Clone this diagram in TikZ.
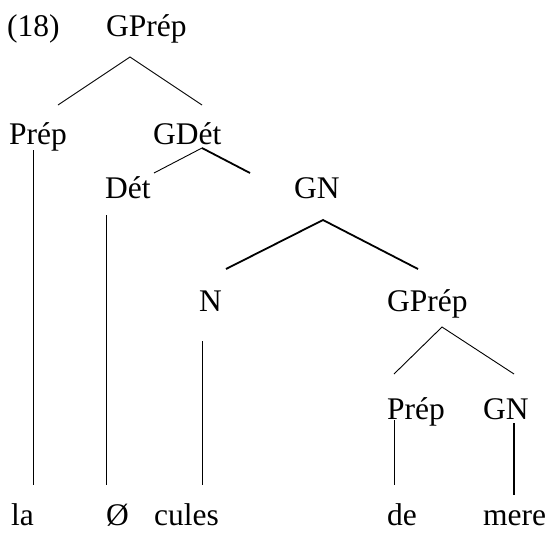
\documentclass[tikz,border=0pt]{standalone}
\usepackage{fontspec}
\setmainfont{Liberation Serif}
\begin{document}
\begin{tikzpicture}[x=1pt,y=-1pt,
  lbl/.style={anchor=base west,inner sep=0pt,font=\fontsize{31.5}{36}\selectfont},
  thin/.style={line width=0.9pt},
  thick/.style={line width=1.8pt}]
\useasboundingbox (0,0) rectangle (548,533);
% labels
\node[lbl] (ex) at (7,36) {(18)};
\node[lbl] (gp1) at (106,36) {GPrép};
\node[lbl] (prep1) at (9,144) {Prép};
\node[lbl] (gdet) at (153,144) {GDét};
\node[lbl] (det) at (105,198) {Dét};
\node[lbl] (gn1) at (294,198) {GN};
\node[lbl] (n) at (199,311) {N};
\node[lbl] (gp2) at (387,311) {GPrép};
\node[lbl] (prep2) at (387,419) {Prép};
\node[lbl] (gn2) at (483,419) {GN};
\node[lbl] (la) at (11,525) {la};
\node[lbl] (o) at (106,525) {Ø};
\node[lbl] (cules) at (154,525) {cules};
\node[lbl] (de) at (387,525) {de};
\node[lbl] (mere) at (483,525) {mere};
% connector points
\coordinate (a1) at (130,57);
\coordinate (a1l) at (58,105);
\coordinate (a1r) at (202,105);
\coordinate (a2) at (202,148);
\coordinate (a2l) at (154,173);
\coordinate (a2r) at (250,173);
\coordinate (a3) at (323,220);
\coordinate (a3l) at (226,269);
\coordinate (a3r) at (418,269);
\coordinate (a4) at (442,327);
\coordinate (a4l) at (394,374);
\coordinate (a4r) at (514,374);
\draw[thin] (a1l) -- (a1) -- (a1r);
\draw[thin] (a2l) -- (a2);
\draw[thick] (a2) -- (a2r);
\draw[thick] (a3l) -- (a3) -- (a3r);
\draw[thin] (a4l) -- (a4) -- (a4r);
% verticals
\draw[thin] (33,150) -- (33,485);
\draw[thin] (106,215) -- (106,485);
\draw[thin] (202,341) -- (202,485);
\draw[thin] (394,420) -- (394,485);
\draw[thick] (514,423) -- (514,495);
\end{tikzpicture}
\end{document}
